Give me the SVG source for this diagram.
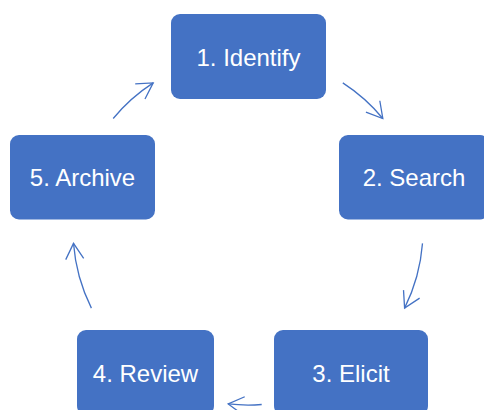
<svg xmlns="http://www.w3.org/2000/svg" width="484" height="410" viewBox="0 0 484 410">
  <defs>
    <style>
      .box { fill: #4472C4; }
      .lbl { font-family: "Liberation Sans", Arial, sans-serif; font-size: 24px; fill: #FFFFFF; text-anchor: middle; }
      .arc { fill: none; stroke: #4472C4; stroke-width: 1.3; marker-end: url(#head); }
    </style>
    <marker id="head" markerUnits="userSpaceOnUse" markerWidth="24" markerHeight="24" viewBox="-20 -12 24 24" refX="0" refY="0" orient="auto">
      <path d="M -15.6 -9 L 0 0 L -15.6 9" fill="none" stroke="#4472C4" stroke-width="1.3" stroke-linejoin="miter"/>
    </marker>
  </defs>
  <rect width="484" height="410" fill="#FFFFFF"/>
  <g id="connectors">
    <path class="arc" d="M 113.2 118.5 A 175 175 0 0 1 153.2 82.9"/>
    <path class="arc" d="M 342.8 82.9 A 175 175 0 0 1 382.8 118.5"/>
    <path class="arc" d="M 422.5 243.4 A 175 175 0 0 1 404.6 308.1"/>
    <path class="arc" d="M 261.7 404.5 A 175 175 0 0 1 228.2 403.9"/>
    <path class="arc" d="M 91.4 308.1 A 175 175 0 0 1 73.5 243.4"/>
  </g>
  <g id="node1">
    <rect class="box" x="171" y="14" width="155" height="85" rx="9"/>
    <text class="lbl" x="248.5" y="65.7">1. Identify</text>
  </g>
  <g id="node2">
    <rect class="box" x="339" y="135" width="150" height="84.5" rx="9"/>
    <text class="lbl" x="414" y="186">2. Search</text>
  </g>
  <g id="node3">
    <rect class="box" x="274" y="330" width="154" height="85" rx="9"/>
    <text class="lbl" x="351" y="381.7">3. Elicit</text>
  </g>
  <g id="node4">
    <rect class="box" x="77" y="330" width="137" height="85" rx="9"/>
    <text class="lbl" x="145.5" y="381.7">4. Review</text>
  </g>
  <g id="node5">
    <rect class="box" x="10" y="135" width="145" height="84.5" rx="9"/>
    <text class="lbl" x="82.5" y="186">5. Archive</text>
  </g>
</svg>
